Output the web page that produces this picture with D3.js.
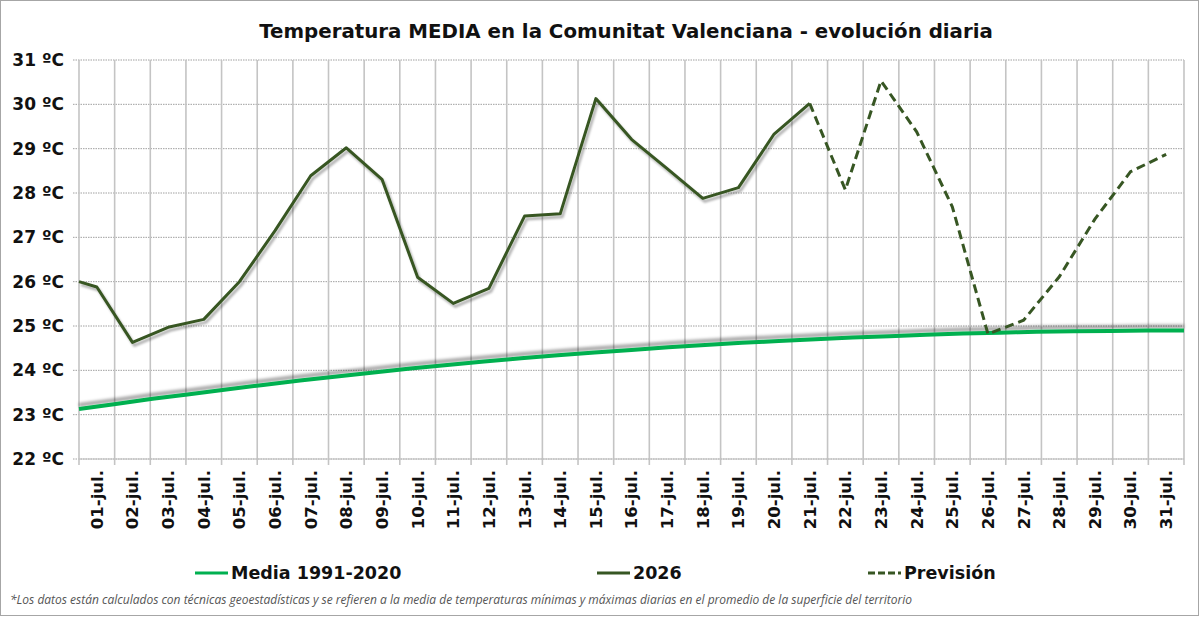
<!DOCTYPE html>
<html>
<head>
<meta charset="utf-8">
<script src="https://cdn.jsdelivr.net/npm/d3@7"></script>
<style>
body { margin: 0; background: #fff; }
svg { display: block; }
</style>
</head>
<body>
<svg id="chart" width="1200" height="617"></svg>
<script>
// dias de julio
var days = d3.range(1, 32).map(function(d) { return (d < 10 ? "0" + d : "" + d) + "-jul."; });

// media 1991-2020
var media = [23.13, 23.24, 23.36, 23.46, 23.57, 23.67, 23.77, 23.86, 23.95, 24.04,
             24.12, 24.20, 24.27, 24.34, 24.40, 24.46, 24.52, 24.57, 24.62, 24.66,
             24.70, 24.74, 24.77, 24.80, 24.83, 24.85, 24.87, 24.88, 24.89, 24.90, 24.90];

// valor del 30-jun que arranca la linea en el borde del eje
var startValue = 26.0;

// 2026 observado, 01-jul a 21-jul
var obs2026 = [25.88, 24.63, 24.97, 25.15, 26.00, 27.15, 28.39, 29.02, 28.31, 26.10,
               25.51, 25.85, 27.48, 27.53, 30.13, 29.21, 28.55, 27.88, 28.12, 29.33, 30.02];

// prevision, 21-jul a 31-jul
var prevision = [30.02, 28.07, 30.53, 29.38, 27.69, 24.82, 25.13, 26.11, 27.41, 28.48, 28.87];

var yTicks = d3.range(22, 32);

var svg = d3.select("#chart");
var pLeft = 79, pRight = 1184, pTop = 60, pBottom = 459;

var x = d3.scaleBand().domain(days).range([pLeft, pRight]);
var xm = d3.scalePoint().domain(days).range([pLeft, pRight]);
var y = d3.scaleLinear().domain([22, 31]).range([pBottom, pTop]);
function cx(d) { return x(d) + x.bandwidth() / 2; }

var defs = svg.append("defs");
var f1 = defs.append("filter").attr("id", "sh1").attr("x", "-5%").attr("y", "-20%").attr("width", "110%").attr("height", "140%");
f1.append("feGaussianBlur").attr("in", "SourceAlpha").attr("stdDeviation", 1.3).attr("result", "b");
f1.append("feOffset").attr("in", "b").attr("dx", 2).attr("dy", 3).attr("result", "o");
f1.append("feFlood").attr("flood-color", "#000").attr("flood-opacity", 0.3);
f1.append("feComposite").attr("in2", "o").attr("operator", "in").attr("result", "s");
var m1 = f1.append("feMerge");
m1.append("feMergeNode").attr("in", "s");
m1.append("feMergeNode").attr("in", "SourceGraphic");

var f2 = defs.append("filter").attr("id", "sh2").attr("x", "-5%").attr("y", "-50%").attr("width", "110%").attr("height", "200%");
f2.append("feGaussianBlur").attr("in", "SourceAlpha").attr("stdDeviation", 1.8).attr("result", "b");
f2.append("feOffset").attr("in", "b").attr("dx", 0).attr("dy", -4).attr("result", "o");
f2.append("feFlood").attr("flood-color", "#000").attr("flood-opacity", 0.35);
f2.append("feComposite").attr("in2", "o").attr("operator", "in").attr("result", "s");
var m2 = f2.append("feMerge");
m2.append("feMergeNode").attr("in", "s");
m2.append("feMergeNode").attr("in", "SourceGraphic");

// marco
svg.append("rect").attr("x", 0.5).attr("y", 0.5).attr("width", 1198).attr("height", 615)
    .attr("fill", "#fff").attr("stroke", "#a6a6a6");

// titulo
svg.append("text")
    .attr("x", 626).attr("y", 38)
    .attr("text-anchor", "middle")
    .style("font-family", "DejaVu Sans").style("font-weight", "bold").style("font-size", "19.8px")
    .attr("fill", "#111")
    .text("Temperatura MEDIA en la Comunitat Valenciana - evolución diaria");

// rejilla horizontal
svg.append("g").selectAll("line").data(yTicks).join("line")
    .attr("x1", pLeft - 6).attr("x2", pRight)
    .attr("y1", function(d) { return y(d); }).attr("y2", function(d) { return y(d); })
    .attr("stroke", "#a0a0a0").attr("stroke-width", 1).attr("stroke-dasharray", "1.5,1");

// rejilla vertical
var edges = days.map(function(d) { return x(d); }).concat([pRight]);
svg.append("g").selectAll("line").data(edges).join("line")
    .attr("x1", function(d) { return d; }).attr("x2", function(d) { return d; })
    .attr("y1", pTop).attr("y2", pBottom + 6)
    .attr("stroke", "#c4c4c4").attr("stroke-width", 1.6);

svg.append("line").attr("x1", pLeft).attr("x2", pRight).attr("y1", pBottom).attr("y2", pBottom)
    .attr("stroke", "#bfbfbf").attr("stroke-width", 1.2);

// etiquetas eje y
svg.append("g").selectAll("text").data(yTicks).join("text")
    .attr("x", 64).attr("y", function(d) { return y(d); })
    .attr("dy", "0.36em")
    .attr("text-anchor", "end")
    .style("font-family", "DejaVu Sans").style("font-weight", "bold").style("font-size", "17px")
    .attr("fill", "#111")
    .text(function(d) { return d + " ºC"; });

// etiquetas eje x
svg.append("g").selectAll("text").data(days).join("text")
    .attr("transform", function(d) { return "translate(" + cx(d) + "," + 470 + ") rotate(-90)"; })
    .attr("text-anchor", "end")
    .attr("dy", "0.36em")
    .style("font-family", "DejaVu Sans").style("font-weight", "bold").style("font-size", "16.5px")
    .attr("fill", "#111")
    .text(function(d) { return d; });

// linea media
var lineM = d3.line().x(function(d, i) { return xm(days[i]); }).y(function(d) { return y(d); });
svg.append("path").datum(media)
    .attr("d", lineM)
    .attr("fill", "none").attr("stroke", "#00b050").attr("stroke-width", 4)
    .attr("filter", "url(#sh2)");

// linea 2026
var pts2026 = [[pLeft, startValue]].concat(obs2026.map(function(v, i) { return [cx(days[i]), v]; }));
var line2 = d3.line().x(function(d) { return d[0]; }).y(function(d) { return y(d[1]); });
svg.append("path").datum(pts2026)
    .attr("d", line2)
    .attr("fill", "none").attr("stroke", "#375623").attr("stroke-width", 3)
    .attr("stroke-linejoin", "round")
    .attr("filter", "url(#sh1)");

// prevision
var offset = obs2026.length - 1;
var lineP = d3.line().x(function(d, i) { return cx(days[i + offset]); }).y(function(d) { return y(d); });
svg.append("path").datum(prevision)
    .attr("d", lineP)
    .attr("fill", "none").attr("stroke", "#375623").attr("stroke-width", 3)
    .attr("stroke-dasharray", "9,5");

// leyenda
var legend = [
    { label: "Media 1991-2020", color: "#00b050", dash: null, x: 195 },
    { label: "2026", color: "#375623", dash: null, x: 597 },
    { label: "Previsión", color: "#375623", dash: "7,3", x: 868 }
];
var lg = svg.append("g").selectAll("g").data(legend).join("g")
    .attr("transform", function(d) { return "translate(" + d.x + ",573)"; });
lg.append("line").attr("x1", 0).attr("x2", 33).attr("y1", 0).attr("y2", 0)
    .attr("stroke", function(d) { return d.color; }).attr("stroke-width", 3)
    .attr("stroke-dasharray", function(d) { return d.dash; });
lg.append("text").attr("x", 36).attr("dy", "0.36em")
    .style("font-family", "DejaVu Sans").style("font-weight", "bold").style("font-size", "17.5px")
    .attr("fill", "#111")
    .text(function(d) { return d.label; });

// nota
svg.append("text")
    .attr("x", 10).attr("y", 604)
    .style("font-family", "Open Sans").style("font-style", "italic").style("font-size", "12px")
    .attr("fill", "#555")
    .text("*Los datos están calculados con técnicas geoestadísticas y se refieren a la media de temperaturas mínimas y máximas diarias en el promedio de la superficie del territorio");
</script>
</body>
</html>
